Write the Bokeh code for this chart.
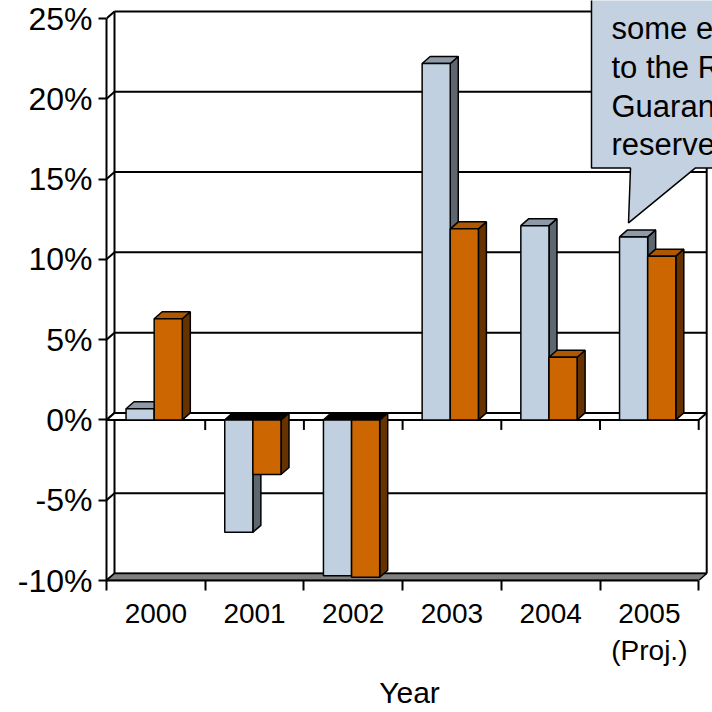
from bokeh.plotting import figure
from bokeh.models import Range1d, FixedTicker, PrintfTickFormatter
from bokeh.core.properties import value
from bokeh.embed import file_html
from bokeh.resources import INLINE

# ---- data ----
years = ["2000", "2001", "2002", "2003", "2004", "2005\n(Proj.)"]
growth_a = [0.7, -7.0, -9.7, 22.2, 12.1, 11.4]   # light blue series (%)
growth_b = [6.3, -3.4, -9.8, 11.9, 3.9, 10.2]    # orange series (%)
y_ticks = [-10, -5, 0, 5, 10, 15, 20, 25]
callout_lines = ["some e", "to the R", "Guaran", "reserve"]
x_title = "Year"

# ---- layout constants ----
PX_X = 98.7      # pixels per category
PX_Y = 16.057    # pixels per percent
DX = 8 / PX_X    # 3-D depth offset (x)
DY = 7 / PX_Y    # 3-D depth offset (y)
n = len(years)
FONT = "Liberation Sans"
W_FIG, H_FIG = 712, 712
LEFT, BOTTOM_PX = 106, 580

x_end = (W_FIG - LEFT) / PX_X
y_end = -10 + BOTTOM_PX / PX_Y

p = figure(width=W_FIG, height=H_FIG,
           x_range=Range1d(0, x_end), y_range=Range1d(-10, y_end),
           output_backend="svg", toolbar_location=None,
           min_border_left=LEFT, min_border_right=0,
           min_border_top=0, min_border_bottom=H_FIG - BOTTOM_PX)
p.outline_line_color = None
p.grid.visible = False

ymin, ymax = y_ticks[0], y_ticks[-1]

# back wall gridlines with diagonal from front axis
gx0, gy0, gx1, gy1 = [], [], [], []
for v in y_ticks:
    gx0 += [DX, 0]
    gy0 += [v + DY, v]
    gx1 += [n + DX, DX]
    gy1 += [v + DY, v + DY]
gx0 += [DX, n + DX]
gy0 += [ymin + DY, ymin + DY]
gx1 += [DX, n + DX]
gy1 += [ymax + DY, ymax + DY]
p.segment(gx0, gy0, gx1, gy1, line_color="black", line_width=2)

# bottom floor (grey)
p.patch([0, n, n + DX, DX], [ymin, ymin, ymin + DY, ymin + DY],
        fill_color="#808080", line_color="black", line_width=1.5)

# zero floor
p.patch([0, n, n + DX, DX], [0, 0, DY, DY],
        fill_color="white", line_color="black", line_width=2)
tick_len = 10 / PX_Y
p.segment([i for i in range(1, n + 1)], [0] * n,
          [i for i in range(1, n + 1)], [-tick_len] * n,
          line_color="black", line_width=2)

# bars
W = 0.285
series = [
    (growth_a, 0.198, "#C0D0E0", "#8E9AA8", "#5E6670"),
    (growth_b, 0.483, "#CC6600", "#B05800", "#663300"),
]
xs, ys, fills = [], [], []
for i in range(n):
    for vals, off, c_front, c_top, c_side in series:
        v = vals[i]
        x0 = i + off
        x1 = x0 + W
        xs.append([x1, x1 + DX, x1 + DX, x1])
        ys.append([0, DY, v + DY, v])
        fills.append(c_side)
        tv = v if v > 0 else 0
        xs.append([x0, x1, x1 + DX, x0 + DX])
        ys.append([tv, tv, tv + DY, tv + DY])
        fills.append(c_top if v > 0 else "#000000")
        xs.append([x0, x1, x1, x0])
        ys.append([0, 0, v, v])
        fills.append(c_front)
p.patches(xs, ys, fill_color=fills, line_color="black", line_width=1.5)

# callout
bx0 = (591 - LEFT) / PX_X
by0 = (420 - 168) / PX_Y
px0 = (630 - LEFT) / PX_X
px1 = (695 - LEFT) / PX_X
tipx = (628 - LEFT) / PX_X
tipy = (420 - 223) / PX_Y
p.patch([bx0, bx0, px0, tipx, px1, x_end + 1, x_end + 1],
        [y_end + 2, by0, by0, tipy, by0, by0, y_end + 2],
        fill_color="#C3D1E0", line_color="black", line_width=1.5)
tx = (611 - LEFT) / PX_X
baselines = [(420 - sy) / PX_Y for sy in (29, 68, 107, 145)]
p.text(x=[tx] * len(callout_lines), y=baselines, text=callout_lines,
       text_font=value(FONT), text_font_size="31px",
       text_baseline="alphabetic", text_align="left", text_color="black")

# y axis
ya = p.yaxis[0]
ya.ticker = FixedTicker(ticks=y_ticks)
ya.formatter = PrintfTickFormatter(format="%d%%")
ya.bounds = (ymin, ymax)
ya.axis_line_width = 2
ya.major_tick_out = 8
ya.major_tick_in = 0
ya.major_tick_line_width = 2
ya.minor_tick_line_color = None
ya.major_label_standoff = 6
ya.major_label_text_font = FONT
ya.major_label_text_font_size = "32px"
ya.major_label_text_color = "black"

# x axis
xa = p.xaxis[0]
centers = [i + 0.5 for i in range(n)]
xa.ticker = FixedTicker(ticks=centers, minor_ticks=list(range(n + 1)))
xa.major_label_overrides = {c: years[i] for i, c in enumerate(centers)}
xa.bounds = (0, n)
xa.axis_line_width = 2
xa.major_tick_out = 0
xa.major_tick_in = 0
xa.minor_tick_out = 10
xa.minor_tick_in = 0
xa.minor_tick_line_width = 2
xa.minor_tick_line_color = "black"
xa.major_label_standoff = 7
xa.major_label_text_font = FONT
xa.major_label_text_font_size = "28px"
xa.major_label_text_color = "black"
xa.major_label_text_line_height = 1.2
xa.axis_label = x_title
xa.axis_label_text_font = FONT
xa.axis_label_text_font_size = "30px"
xa.axis_label_text_font_style = "normal"
xa.axis_label_text_color = "black"
xa.axis_label_standoff = 7
xa.axis_label_text_line_height = 1.0

open("out.html", "w").write(file_html(p, INLINE))
